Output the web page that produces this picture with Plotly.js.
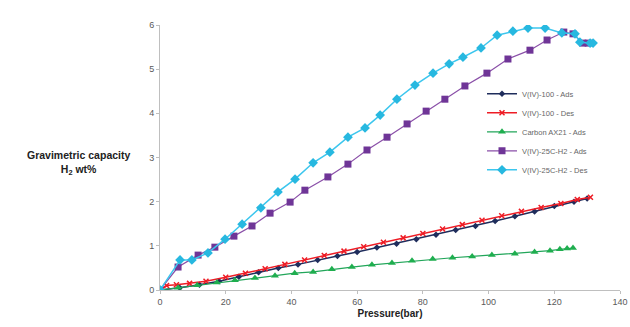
<!DOCTYPE html>
<html>
<head>
<meta charset="utf-8">
<script src="https://cdn.plot.ly/plotly-3.0.1.min.js"></script>
<style>html,body{margin:0;padding:0;background:#fff;}#chart{width:630px;height:327px;}</style>
</head>
<body>
<div id="chart"></div>
<script>
// V(IV)-100 - Ads
const v100AdsX = [0, 6, 12, 18, 24, 30, 36, 42, 48, 54, 60, 66, 72, 78, 84, 90, 96, 102, 108, 114, 120, 126, 130];
const v100AdsY = [0, 0.05, 0.12, 0.2, 0.3, 0.4, 0.5, 0.58, 0.68, 0.77, 0.86, 0.96, 1.05, 1.15, 1.25, 1.36, 1.45, 1.56, 1.67, 1.78, 1.9, 2.0, 2.07];
// V(IV)-100 - Des
const v100DesX = [0, 2, 5, 9, 14, 20, 26, 32, 38, 44, 50, 56, 62, 68, 74, 80, 86, 92, 98, 104, 110, 116, 122, 127, 131];
const v100DesY = [0, 0.1, 0.12, 0.15, 0.2, 0.29, 0.38, 0.48, 0.58, 0.68, 0.78, 0.88, 0.98, 1.08, 1.18, 1.28, 1.38, 1.48, 1.58, 1.68, 1.78, 1.87, 1.96, 2.05, 2.1];
// Carbon AX21 - Ads
const ax21X = [0, 5.5, 11.3, 17.3, 22.8, 28.9, 35, 41, 46.6, 52.3, 58.4, 64.5, 70.6, 76.7, 83, 89, 95, 101, 108, 114, 118.7, 121.7, 123.9, 125.7];
const ax21Y = [0, 0.05, 0.11, 0.17, 0.22, 0.27, 0.32, 0.38, 0.41, 0.47, 0.52, 0.57, 0.61, 0.66, 0.7, 0.73, 0.76, 0.79, 0.82, 0.86, 0.89, 0.92, 0.94, 0.95];
// V(IV)-25C-H2 - Ads
const v25AdsX = [0, 5.5, 11.6, 16.7, 22.5, 28, 33.5, 39.6, 44.1, 51.1, 57.2, 63, 69.1, 75.2, 81, 86.7, 92.8, 99.5, 105.9, 112.6, 117.8, 122.9, 125.7, 128.7, 130.3];
const v25AdsY = [0, 0.52, 0.79, 0.97, 1.22, 1.45, 1.74, 1.99, 2.26, 2.56, 2.85, 3.17, 3.46, 3.76, 4.05, 4.32, 4.62, 4.91, 5.23, 5.43, 5.66, 5.84, 5.8, 5.59, 5.59];
// V(IV)-25C-H2 - Des
const v25DesX = [0, 6.1, 9.7, 14.6, 19.8, 25, 30.7, 35.9, 41.1, 46.6, 51.7, 57.2, 62.4, 67, 72.1, 77.6, 83.1, 88, 92.2, 97.7, 102.6, 107.4, 112, 117.2, 122.3, 126.3, 127.8, 130.9, 131.8];
const v25DesY = [0, 0.68, 0.68, 0.84, 1.15, 1.49, 1.86, 2.22, 2.51, 2.88, 3.12, 3.46, 3.67, 3.96, 4.32, 4.64, 4.91, 5.12, 5.27, 5.48, 5.77, 5.86, 5.93, 5.93, 5.82, 5.8, 5.61, 5.59, 5.59];

const xTicks = [0, 20, 40, 60, 80, 100, 120, 140];
const yTicks = [0, 1, 2, 3, 4, 5, 6];

const traces = [
  {x: v100AdsX, y: v100AdsY, name: 'V(IV)-100 - Ads', mode: 'lines+markers',
   line: {color: '#1f2d5c', width: 1.5}, marker: {symbol: 'diamond', size: 5, color: '#1f2d5c'}},
  {x: v100DesX, y: v100DesY, name: 'V(IV)-100 - Des', mode: 'lines+markers',
   line: {color: '#ee1c25', width: 1.5}, marker: {symbol: 'x-thin-open', size: 5, color: '#ee1c25', line: {width: 1.5, color: '#ee1c25'}}},
  {x: ax21X, y: ax21Y, name: 'Carbon AX21 - Ads', mode: 'lines+markers',
   line: {color: '#22a65a', width: 1.2}, marker: {symbol: 'triangle-up', size: 7, color: '#1fae4f'}},
  {x: v25AdsX, y: v25AdsY, name: 'V(IV)-25C-H2 - Ads', mode: 'lines+markers',
   line: {color: '#8a4fa8', width: 1.2}, marker: {symbol: 'square', size: 7, color: '#6f3597'}},
  {x: v25DesX, y: v25DesY, name: 'V(IV)-25C-H2 - Des', mode: 'lines+markers',
   line: {color: '#3cc6ee', width: 1.5}, marker: {symbol: 'diamond', size: 7.5, color: '#27b8e0'}}
];

const layout = {
  width: 630, height: 327,
  margin: {l: 160, r: 10, t: 25, b: 37},
  paper_bgcolor: '#fff', plot_bgcolor: '#fff',
  showlegend: true,
  font: {family: 'Liberation Sans, Arial, sans-serif', color: '#595959', size: 9},
  xaxis: {
    range: [0, 140], tickvals: xTicks, ticktext: xTicks.map(String),
    showgrid: false, zeroline: false, showline: true, linecolor: '#bfbfbf', linewidth: 1,
    ticks: 'outside', ticklen: 3, tickcolor: '#bfbfbf',
    tickfont: {size: 9, color: '#595959'},
    title: {text: '<b>Pressure(bar)</b>', font: {size: 10, color: '#222'}, standoff: 4}
  },
  yaxis: {
    range: [0, 6], tickvals: yTicks, ticktext: yTicks.map(String),
    showgrid: false, zeroline: false, showline: true, linecolor: '#bfbfbf', linewidth: 1,
    ticks: 'outside', ticklen: 3, tickcolor: '#bfbfbf',
    tickfont: {size: 9, color: '#595959'}
  },
  legend: {
    x: 0.7, y: 0.795, xanchor: 'left', yanchor: 'top',
    bgcolor: 'rgba(255,255,255,0)', font: {size: 7.5, color: '#666'},
    itemwidth: 30, tracegroupgap: 0
  },
  annotations: [{
    xref: 'paper', yref: 'paper', x: -0.178, y: 0.48, xanchor: 'center', yanchor: 'middle',
    text: '<b>Gravimetric capacity<br>H<sub>2</sub> wt%</b>', showarrow: false,
    font: {size: 10.5, color: '#222'}, align: 'center'
  }]
};

Plotly.newPlot('chart', traces, layout, {displayModeBar: false, staticPlot: true});
</script>
</body>
</html>
